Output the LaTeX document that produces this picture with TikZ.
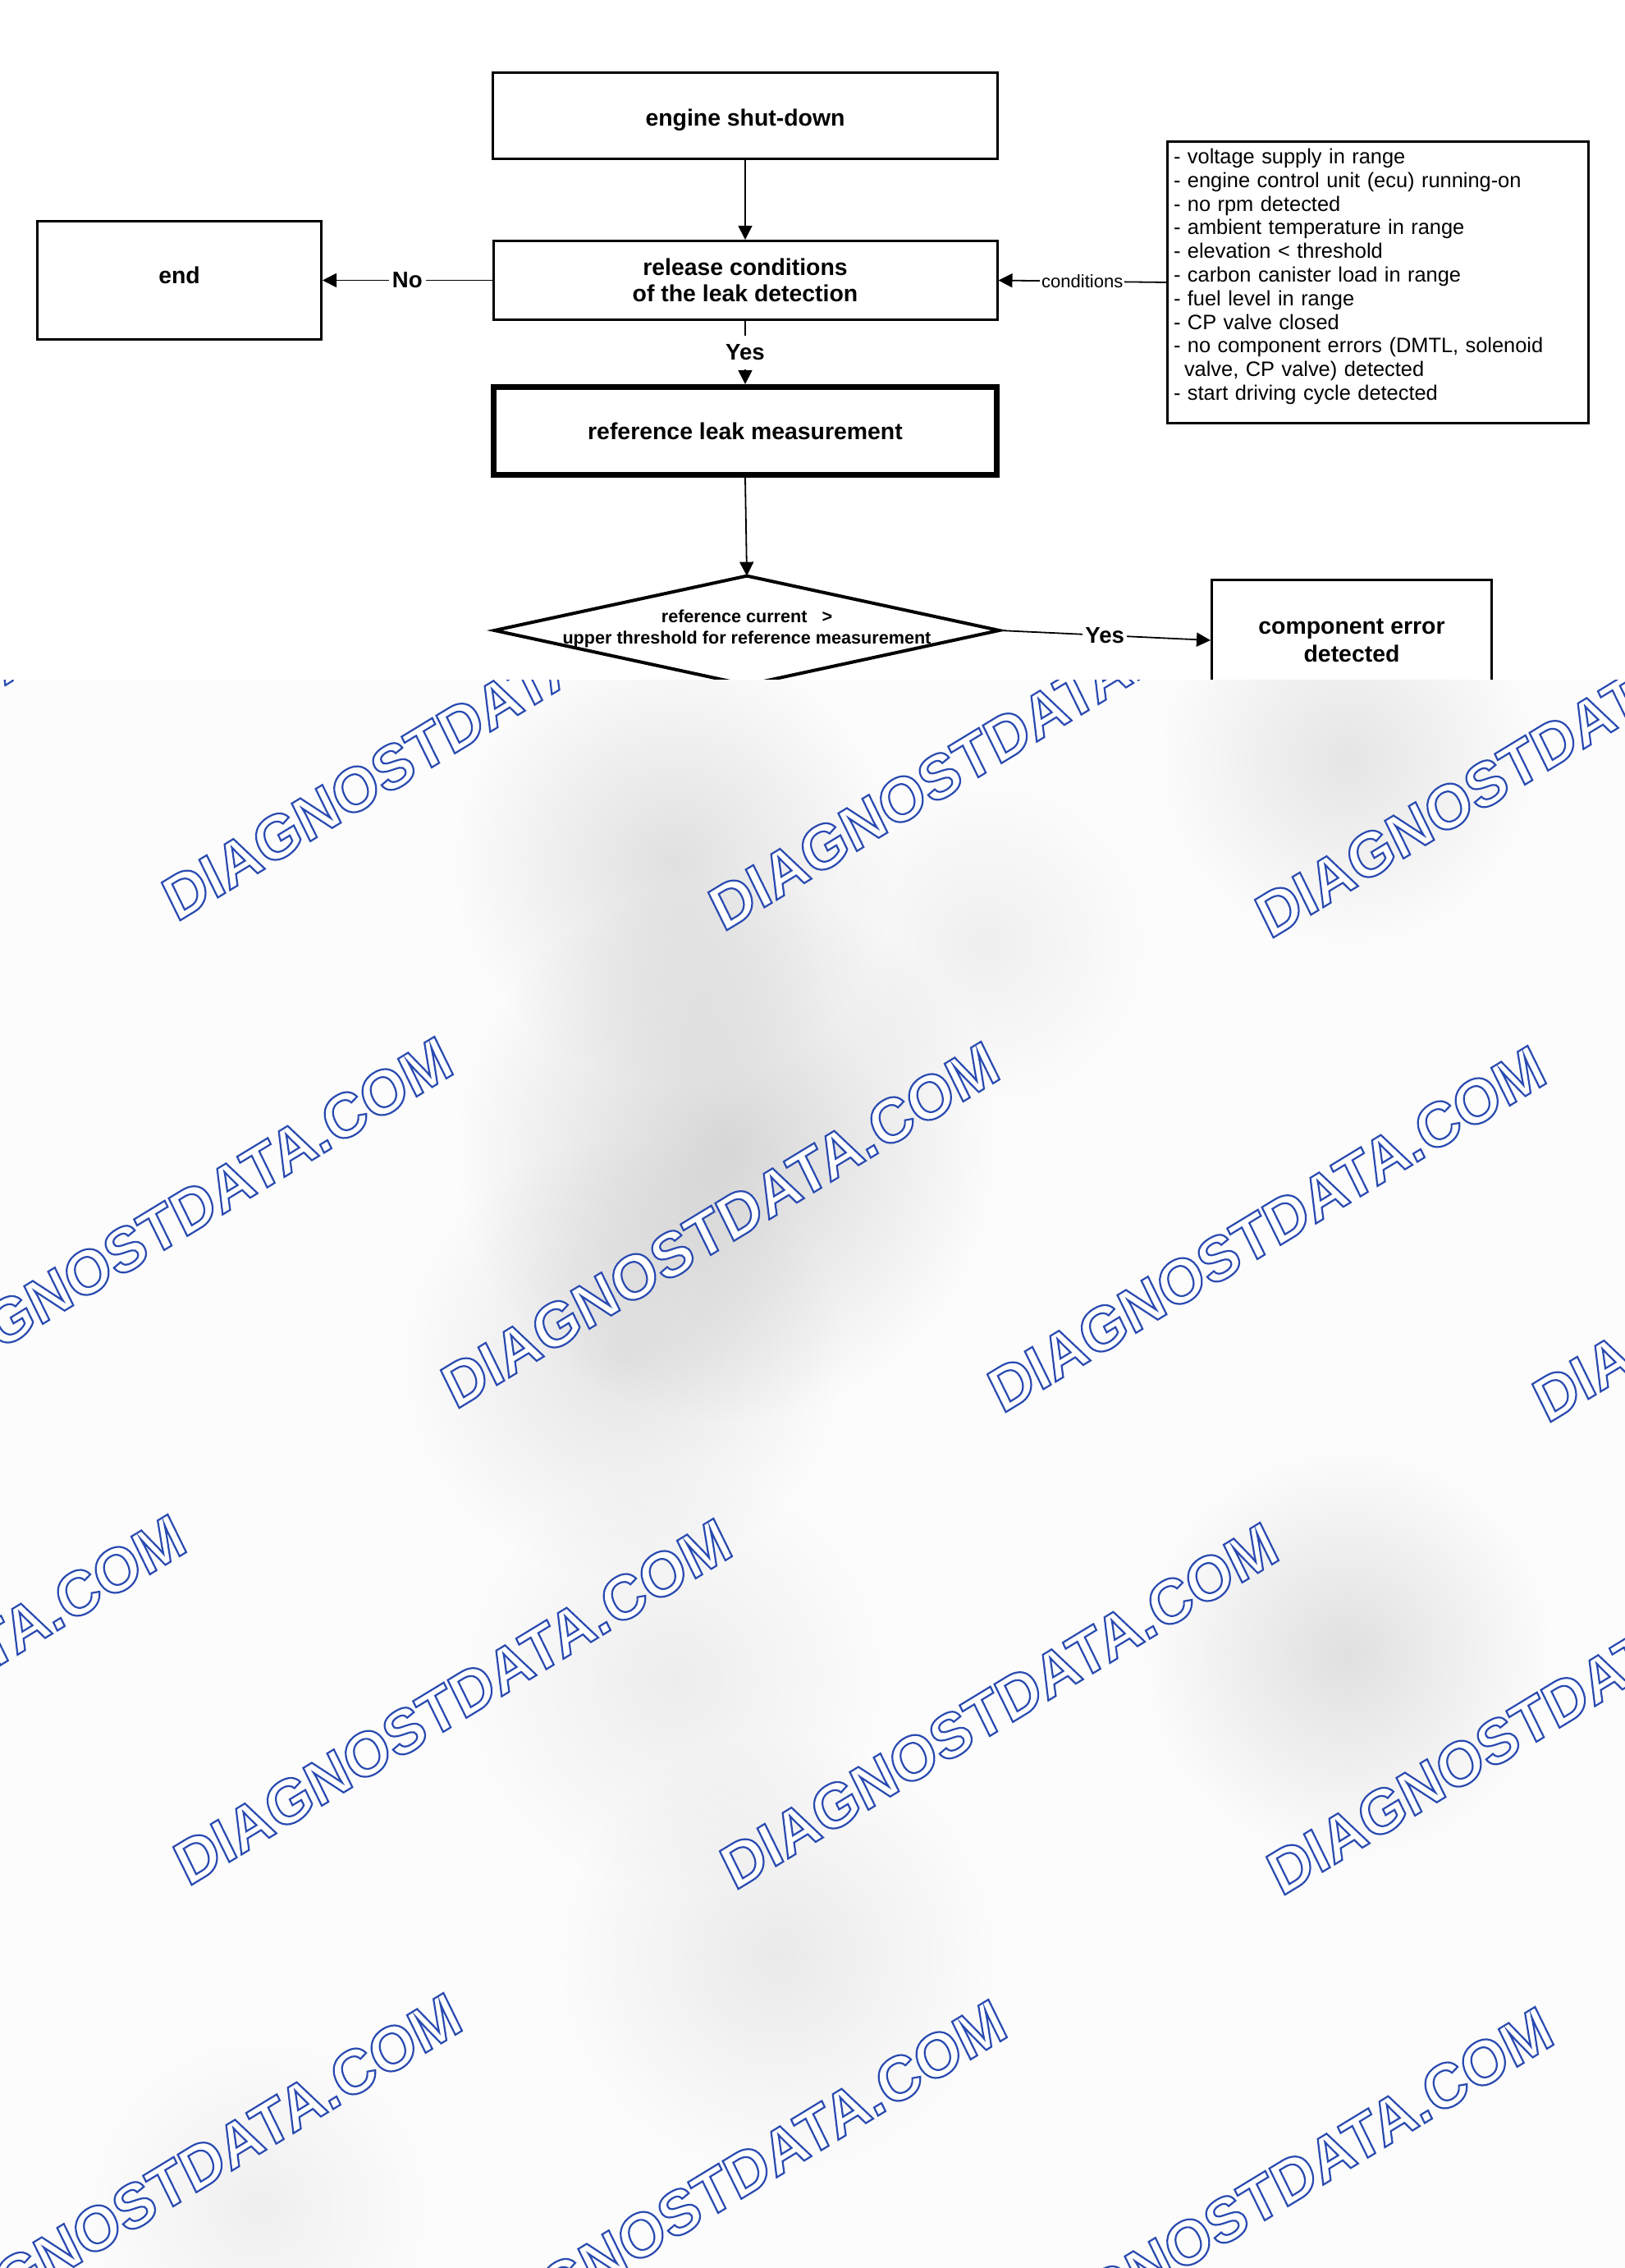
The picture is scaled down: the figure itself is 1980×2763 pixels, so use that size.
\documentclass[tikz,border=0pt]{standalone}
\usepackage{fontspec}
\setmainfont{Liberation Sans}
\newfontfamily\wmfont[FakeSlant=0.09]{Liberation Sans Bold}
\usetikzlibrary{arrows.meta,fadings}
\tikzfading[name=softblob, inner color=transparent!0, outer color=transparent!100]
\newcommand{\lblfont}{\fontsize{14.2pt}{16pt}\selectfont\bfseries}
\newcommand{\wmtext}{\color{white}\special{pdf:literal direct 0.16 0.29 0.69 RG 2 Tr 1.1 w}DIAGNOSTDATA.COM\special{pdf:literal direct 0 Tr}}
\tikzset{
  box/.style={draw, line width=1.5pt, align=center, inner sep=0pt, font=\lblfont},
  thickbox/.style={box, line width=3.5pt},
  condbox/.style={draw, line width=1.5pt, align=left, inner xsep=3.75pt, inner ysep=0pt,
     font=\fontsize{12.7pt}{14.4pt}\selectfont},
  conn/.style={line width=0.9pt, -{Triangle[length=8.5pt,width=8.5pt]}},
  lbl/.style={fill=white, inner xsep=2pt, inner ysep=5pt, font=\fontsize{13.8pt}{16pt}\selectfont\bfseries},
  smalllbl/.style={fill=white, inner xsep=1pt, inner ysep=2pt, font=\fontsize{11pt}{13pt}\selectfont},
  wm/.style={anchor=base west, rotate=31.3, inner sep=0pt, font=\fontsize{37.1pt}{40pt}\wmfont},
  blob/.style={fill=black, path fading=softblob},
}
\begin{document}
\begin{tikzpicture}[x=0.5pt,y=-0.5pt]
\useasboundingbox (0,0) rectangle (1980,2763);
\fill[white] (0,0) rectangle (1980,2763);

% --- flowchart ---
\node[box, minimum width=307.5pt, minimum height=52.5pt] (engine) at (908,141) {\raisebox{-2.5pt}[\height][\depth]{engine shut-down}};
\node[box, minimum width=307pt, minimum height=48pt, font=\fontsize{14.2pt}{16pt}\selectfont\bfseries] (release) at (908,341.5) {release conditions\\of the leak detection};
\node[box, minimum width=173pt, minimum height=72pt] (end) at (218.5,341.5) {\raisebox{3pt}[\height][\depth]{end}};
\node[thickbox, minimum width=306.5pt, minimum height=53.5pt] (ref) at (908,525) {reference leak measurement};
\node[inner sep=0pt, minimum width=307pt, minimum height=66pt, align=center,
      font=\fontsize{10.8pt}{13pt}\selectfont\bfseries] (dec) at (910,766)
      {reference current \ \ >\\upper threshold for reference measurement};
\draw[line width=2pt] ([yshift=-1pt]dec.west) -- ([yshift=-1pt]dec.north) -- ([yshift=-1pt]dec.east) -- ([yshift=-1pt]dec.south) -- cycle;
\node[box, minimum width=170.5pt, minimum height=73.5pt, font=\fontsize{14.2pt}{17pt}\selectfont\bfseries] (comp) at (1647,780) {component error\\detected};
\node[condbox, text width=249pt, minimum height=171.5pt] (cond) at (1679,344) {\raisebox{3.5pt}[\height][\depth]{\parbox{249pt}{%
- voltage supply in range\\
- engine control unit (ecu) running-on\\
- no rpm detected\\
- ambient temperature in range\\
- elevation < threshold\\
- carbon canister load in range\\
- fuel level in range\\
- CP valve closed\\
- no component errors (DMTL, solenoid\\
\hspace*{6.5pt}valve, CP valve) detected\\
- start driving cycle detected}}};

\draw[conn] (engine.south) -- (release.north);
\draw[conn] (release.west) -- node[lbl] {No} (end.east);
\draw[conn] (release.south) -- node[lbl, inner ysep=5.5pt] {Yes} (ref.north);
\draw[conn] (ref.south) -- ([yshift=-1pt]dec.north);
\draw[conn] ([yshift=-1pt]dec.east) -- node[lbl, inner xsep=1.5pt] {Yes} (comp.west);
\draw[conn] (cond.west) -- node[smalllbl] {conditions} (release.east);

% --- watermark overlay ---
\begin{scope}
\clip (0,828) rectangle (1980,2763);
\fill[black!1] (0,828) rectangle (1980,2763);
\foreach \bx/\by/\br/\bo in {884/1402/330/0.15, 821/1051/270/0.11, 1641/924/230/0.09, 758/1657/270/0.09,
   1641/2015/250/0.11, 821/2046/260/0.06, 947/2383/270/0.07, 316/2690/210/0.05, 1200/1150/200/0.05}
  \fill[blob, opacity=\bo] (\bx,\by) circle (\br);
\foreach \wx/\wy [count=\i] in {-451/1113, 215/1124, 881/1136, 1547/1145,
   -111/1712, 555/1718, 1221/1723, 1885/1735,
   -436/2294, 229/2299, 895/2304, 1561/2311,
   -100/2877, 564/2885, 1230/2894}
  \node[wm] (wm\i) at (\wx,\wy) {\wmtext};
\end{scope}
\end{tikzpicture}
\end{document}
